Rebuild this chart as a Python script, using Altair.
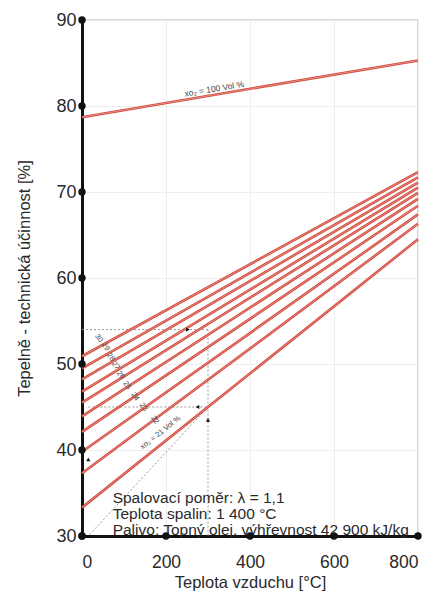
import altair as alt
import pandas as pd

# --- data ---
o2_conc = [100, 30, 29, 28, 27, 26, 25, 24, 23, 22, 21]
eta_at_0 = [78.7, 50.9, 49.5, 48.2, 46.8, 45.5, 43.9, 42.1, 39.8, 37.3, 33.3]
eta_at_800 = [85.3, 72.3, 71.7, 71.1, 70.5, 69.9, 69.2, 68.4, 67.4, 66.3, 64.5]
air_temp_ends = [0, 800]

x_ticks = [0, 200, 400, 600, 800]
y_ticks = [30, 40, 50, 60, 70, 80, 90]

num_labels = ["30", "29", "28", "27", "26", "25", "24", "23", "22"]
num_label_x = [40, 56, 68, 80, 92, 107, 126, 146, 173]
num_label_y = [53.0, 52.0, 50.8, 49.8, 48.7, 47.5, 46.2, 45.0, 43.5]

note_lines = ["Spalovací poměr: λ = 1,1", "Teplota spalin: 1 400 °C",
              "Palivo: Topný olej, výhřevnost 42 900 kJ/kg"]
note_x = [73, 73, 73]
note_y = [34.45, 32.55, 30.7]

# guide (reading example) lines
guide_x = [0, 15, 300, 300]
guide_x2 = [300, 300, 300, 15]
guide_y = [54.0, 45.0, 54.0, 45.0]
guide_y2 = [54.0, 45.0, 30.0, 30.0]
arrow_x = [252, 275, 300, 15]
arrow_y = [54.0, 45.0, 43.5, 38.9]
arrow_shape = ["triangle-right", "triangle-left", "triangle-up", "triangle-up"]

rows = []
for c, a, b in zip(o2_conc, eta_at_0, eta_at_800):
    rows.append({"o2": c, "t": air_temp_ends[0], "eta": a})
    rows.append({"o2": c, "t": air_temp_ends[1], "eta": b})
lines_df = pd.DataFrame(rows)

xs = alt.Scale(domain=[0, 800], nice=False, zero=False)
ys = alt.Scale(domain=[30, 90], nice=False, zero=False)

x_axis = alt.Axis(values=x_ticks, title="Teplota vzduchu [°C]", labelFontSize=17.5,
                  labelColor="#2a2a2a", labelPadding=17, titleFontSize=16.5,
                  titleFontWeight="normal", titleColor="#2a2a2a", titlePadding=4,
                  domainColor="#111", domainWidth=3, tickSize=0,
                  gridColor="#eeeeee", labelFont="Liberation Sans", titleFont="Liberation Sans")
y_axis = alt.Axis(values=y_ticks, title="Tepelně - technická účinnost [%]", labelFontSize=18,
                  labelColor="#2a2a2a", labelPadding=6, titleFontSize=16.5,
                  titleFontWeight="normal", titleColor="#2a2a2a", titlePadding=23,
                  domainColor="#111", domainWidth=3, tickSize=0,
                  gridColor="#eeeeee", labelFont="Liberation Sans", titleFont="Liberation Sans")


def X(f, **kw):
    return alt.X(f, scale=xs, **kw)


def Y(f, **kw):
    return alt.Y(f, scale=ys, **kw)


base_lines = alt.Chart(lines_df)
red = base_lines.mark_line(color="#d2473d", strokeWidth=2.6).encode(
    x=X("t:Q", axis=x_axis),
    y=Y("eta:Q", axis=y_axis),
    detail="o2:N",
)
inner = base_lines.mark_line(color="#f3b8a8", strokeWidth=0.6).encode(
    x=X("t:Q"), y=Y("eta:Q"), detail="o2:N")

guide_df = pd.DataFrame({"x": guide_x, "x2": guide_x2, "y": guide_y, "y2": guide_y2})
guides = alt.Chart(guide_df).mark_rule(color="#9a9a9a", strokeDash=[2, 2], strokeWidth=1).encode(
    x=X("x:Q"), x2="x2:Q", y=Y("y:Q"), y2="y2:Q")

arrow_df = pd.DataFrame({"x": arrow_x, "y": arrow_y, "s": arrow_shape})
arrows = alt.Chart(arrow_df).mark_point(filled=True, color="#111", size=18, opacity=1).encode(
    x=X("x:Q"), y=Y("y:Q"), shape=alt.Shape("s:N", scale=None))

tick_df = pd.DataFrame({"x": [0] * len(y_ticks) + x_ticks,
                        "y": y_ticks + [30] * len(x_ticks)})
dots = alt.Chart(tick_df).mark_circle(color="#111", size=55, opacity=1, clip=False).encode(
    x=X("x:Q"), y=Y("y:Q"))

lab100 = alt.Chart(pd.DataFrame({"x": [315], "y": [82.0], "t": ["xo₂ = 100 Vol %"]})).mark_text(
    fontSize=8.5, angle=350.5, color="#444", font="Liberation Sans").encode(
    x=X("x:Q"), y=Y("y:Q"), text="t:N")
lab21 = alt.Chart(pd.DataFrame({"x": [187], "y": [42.0], "t": ["xo₂ = 21 Vol %"]})).mark_text(
    fontSize=7.5, angle=321.5, color="#444", font="Liberation Sans").encode(
    x=X("x:Q"), y=Y("y:Q"), text="t:N")

num_df = pd.DataFrame({"x": num_label_x, "y": num_label_y, "t": num_labels})
nums = alt.Chart(num_df).mark_text(fontSize=7.5, angle=55, color="#444",
                                   font="Liberation Sans").encode(
    x=X("x:Q"), y=Y("y:Q"), text="t:N")

note_df = pd.DataFrame({"x": note_x, "y": note_y, "t": note_lines})
notes = alt.Chart(note_df).mark_text(fontSize=15.5, align="left", baseline="middle",
                                     color="#2a2a2a", font="Liberation Sans").encode(
    x=X("x:Q"), y=Y("y:Q"), text="t:N")

chart = alt.layer(guides, red, inner, arrows, lab100, lab21, nums, notes, dots).properties(
    width=336, height=516,
    autosize=alt.AutoSizeParams(type="none"),
    padding={"left": 74, "top": 12, "right": 14, "bottom": 55},
    background="white",
).configure_view(stroke="#c8c8c8", strokeWidth=1.5)

chart.save("out.html", embed_options={"renderer": "svg", "actions": False})
